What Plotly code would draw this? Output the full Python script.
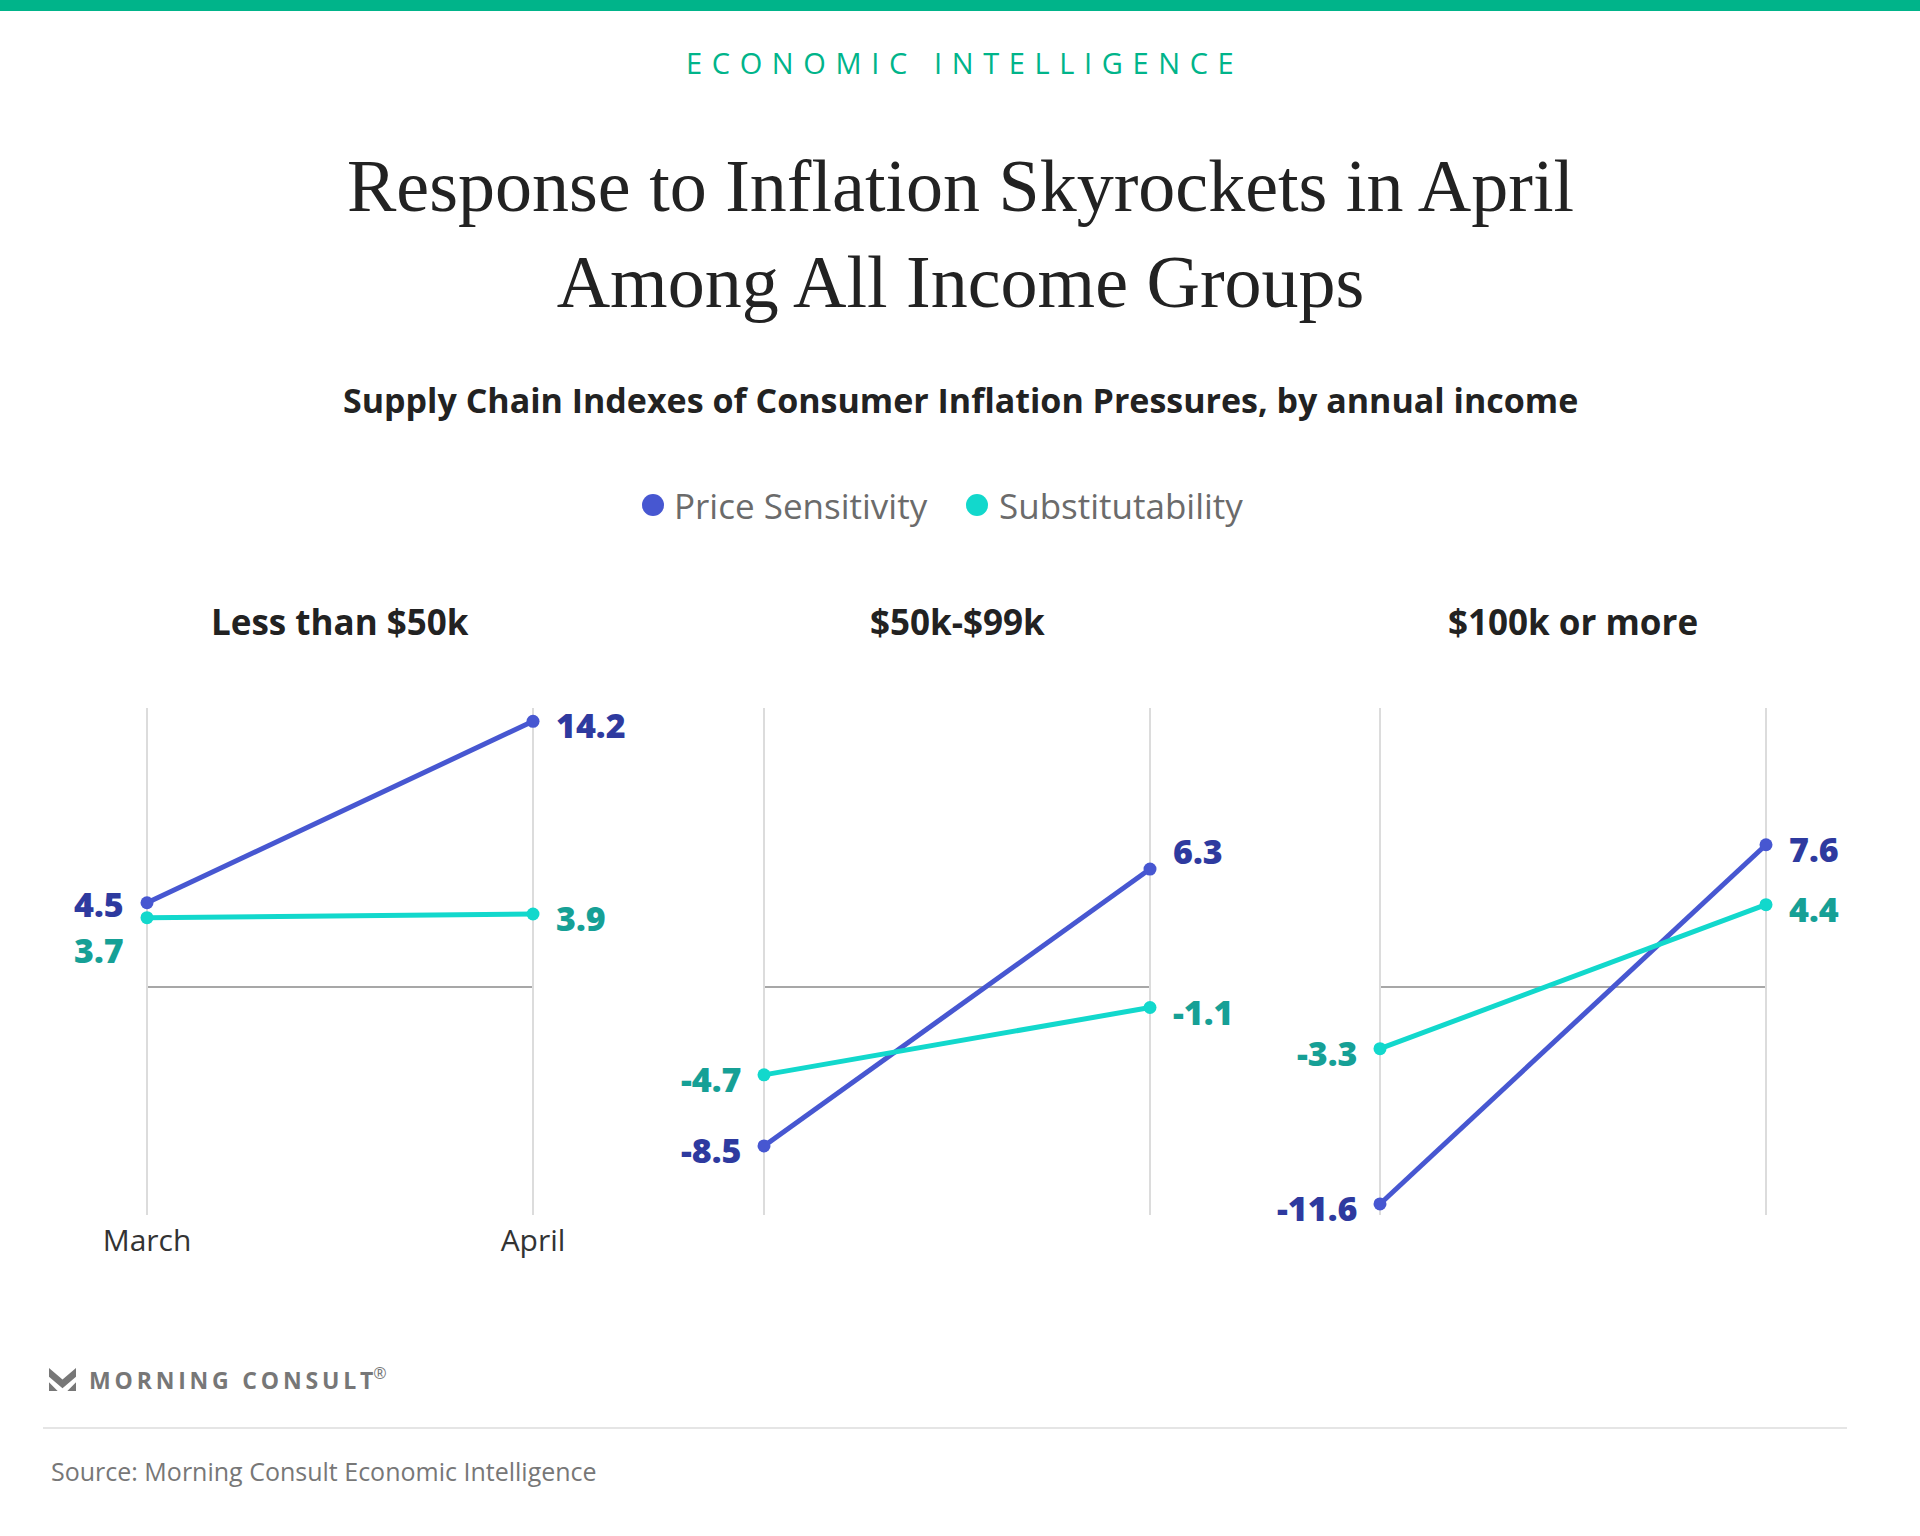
import plotly.graph_objects as go

# ---------------- data ----------------
months = ["March", "April"]
panels = ["Less than $50k", "$50k-$99k", "$100k or more"]
price_sensitivity = [[4.5, 14.2], [-8.5, 6.3], [-11.6, 7.6]]
substitutability = [[3.7, 3.9], [-4.7, -1.1], [-3.3, 4.4]]
series_names = ["Price Sensitivity", "Substitutability"]

title_text = "Response to Inflation Skyrockets in April<br>Among All Income Groups"
subtitle_text = "Supply Chain Indexes of Consumer Inflation Pressures, by annual income"
kicker_text = "ECONOMIC INTELLIGENCE"
source_text = "Source: Morning Consult Economic Intelligence"
brand_text = "MORNING CONSULT"

# ---------------- style ----------------
W, H = 1920, 1536
FONT = "Open Sans"
line_colors = ["#4757d1", "#12d8cc"]
label_colors = ["#2e3a9f", "#16a096"]
green = "#00b48a"

# per-label vertical nudges (pixels) to avoid overlaps, keyed by (panel, series, month)
label_nudge = {(0, 0, 0): -1, (0, 1, 0): -32, (1, 0, 1): 18}

def px(x):
    return x / W

def py(y):
    return 1 - y / H

def spaced(s, sep="\u2009\u2009"):
    return sep.join(list(s))

# panel geometry (pixels)
x_ranges = [-0.3, 1.3]
march_px = [147, 764, 1380]
step_px = 386
y_top, y_bot = 708, 1215
y_range = [-12.19, 14.91]

fig = go.Figure()
annotations = []
shapes = []

for i, name in enumerate(panels):
    xa = "x" if i == 0 else f"x{i+1}"
    ya = "y" if i == 0 else f"y{i+1}"
    left = march_px[i] - 0.3 * step_px
    right = march_px[i] + 1.3 * step_px
    xkey = "xaxis" if i == 0 else f"xaxis{i+1}"
    ykey = "yaxis" if i == 0 else f"yaxis{i+1}"
    fig.layout[xkey] = dict(
        domain=[px(left), px(right)], range=x_ranges, type="category",
        categoryorder="array", categoryarray=months,
        showgrid=True, gridcolor="#dcdcdc", gridwidth=1.5,
        zeroline=False, showline=False, ticks="",
        showticklabels=(i == 0), ticklabelstandoff=5,
        tickfont=dict(family=FONT, size=30, color="#333333"),
        anchor=ya, fixedrange=True,
    )
    fig.layout[ykey] = dict(
        domain=[py(y_bot), py(y_top)], range=y_range,
        showgrid=False, zeroline=False, showticklabels=False, showline=False,
        anchor=xa, fixedrange=True,
    )
    # zero line between the two months
    shapes.append(dict(type="line", xref=xa, yref=ya, x0=0, x1=1, y0=0, y1=0,
                       line=dict(color="#8a8a8a", width=1.5), layer="below"))
    # panel title
    annotations.append(dict(text=f"<b>{name}</b>", xref="paper", yref="paper",
                            x=px(march_px[i] + step_px / 2), y=py(621),
                            xanchor="center", yanchor="middle", showarrow=False,
                            font=dict(family=FONT, size=35, color="#222222")))
    for s, vals in enumerate([price_sensitivity[i], substitutability[i]]):
        fig.add_trace(go.Scatter(
            x=months, y=vals, xaxis=xa, yaxis=ya, mode="lines+markers",
            name=series_names[s], showlegend=False,
            line=dict(color=line_colors[s], width=5),
            marker=dict(color=line_colors[s], size=13),
            cliponaxis=False, hoverinfo="skip",
        ))
        for m, v in enumerate(vals):
            annotations.append(dict(
                text=f"{v:g}", xref=xa, yref=ya, x=months[m], y=v,
                xanchor="right" if m == 0 else "left", yanchor="middle",
                xshift=-22 if m == 0 else 22,
                yshift=label_nudge.get((i, s, m), -4),
                showarrow=False, borderpad=0,
                font=dict(family=FONT, size=34, weight=800, color=label_colors[s])))

# top bar
shapes.append(dict(type="rect", xref="paper", yref="paper", x0=0, x1=1,
                   y0=py(11), y1=1, fillcolor=green, line=dict(width=0)))
# kicker
annotations.append(dict(text=spaced(kicker_text), xref="paper", yref="paper",
                        x=0.5, y=py(62), xanchor="center", yanchor="middle",
                        showarrow=False, font=dict(family=FONT, size=29, color=green)))
# title
annotations.append(dict(text=title_text, xref="paper", yref="paper",
                        x=0.5, y=py(234), xanchor="center", yanchor="middle",
                        showarrow=False,
                        font=dict(family="Liberation Serif", size=74, color="#222222")))
# subtitle
annotations.append(dict(text=f"<b>{subtitle_text}</b>", xref="paper", yref="paper",
                        x=0.5, y=py(400), xanchor="center", yanchor="middle",
                        showarrow=False, font=dict(family=FONT, size=34, color="#222222")))
# legend (manual)
legend_items = [(653, 672), (977, 997)]
for s, (cx, tx) in enumerate(legend_items):
    shapes.append(dict(type="circle", xref="paper", yref="paper",
                       x0=px(cx - 11), x1=px(cx + 11), y0=py(505 + 11), y1=py(505 - 11),
                       fillcolor=line_colors[s], line=dict(width=0)))
    annotations.append(dict(text=series_names[s], xref="paper", yref="paper",
                            x=px(tx), y=py(505), xanchor="left", yanchor="middle",
                            showarrow=False,
                            font=dict(family=FONT, size=35, color="#6b6b6b")))

# brand logo icon
def P(x, y):
    return f"{px(49 + 27 * x):.5f},{py(1368 + 23 * y):.5f}"

icon = (f"M{P(0,0)} L{P(0.5,0.5)} L{P(1,0)} L{P(1,0.38)} L{P(0.5,0.88)} L{P(0,0.38)} Z "
        f"M{P(0,0.62)} L{P(0,1)} L{P(0.32,1)} Z "
        f"M{P(1,0.62)} L{P(1,1)} L{P(0.68,1)} Z")
shapes.append(dict(type="path", xref="paper", yref="paper", path=icon,
                   fillcolor="#777777", line=dict(width=0)))
annotations.append(dict(text=f"<b>{spaced(brand_text, chr(0x2009))}</b><sup>®</sup>",
                        xref="paper", yref="paper",
                        x=px(87), y=py(1379), xanchor="left", yanchor="middle",
                        showarrow=False, font=dict(family=FONT, size=23, color="#777777")))
# separator
shapes.append(dict(type="line", xref="paper", yref="paper", x0=px(43), x1=px(1847),
                   y0=py(1428), y1=py(1428), line=dict(color="#dddddd", width=1.5)))
# source
annotations.append(dict(text=source_text, xref="paper", yref="paper",
                        x=px(49), y=py(1471), xanchor="left", yanchor="middle",
                        showarrow=False, font=dict(family=FONT, size=25, color="#777777")))

fig.update_layout(
    width=W, height=H, margin=dict(l=0, r=0, t=0, b=0),
    paper_bgcolor="white", plot_bgcolor="white",
    showlegend=False, annotations=annotations, shapes=shapes,
)

fig.write_html("out.html", config={"displayModeBar": False},
               post_script="document.body.style.margin='0';")
